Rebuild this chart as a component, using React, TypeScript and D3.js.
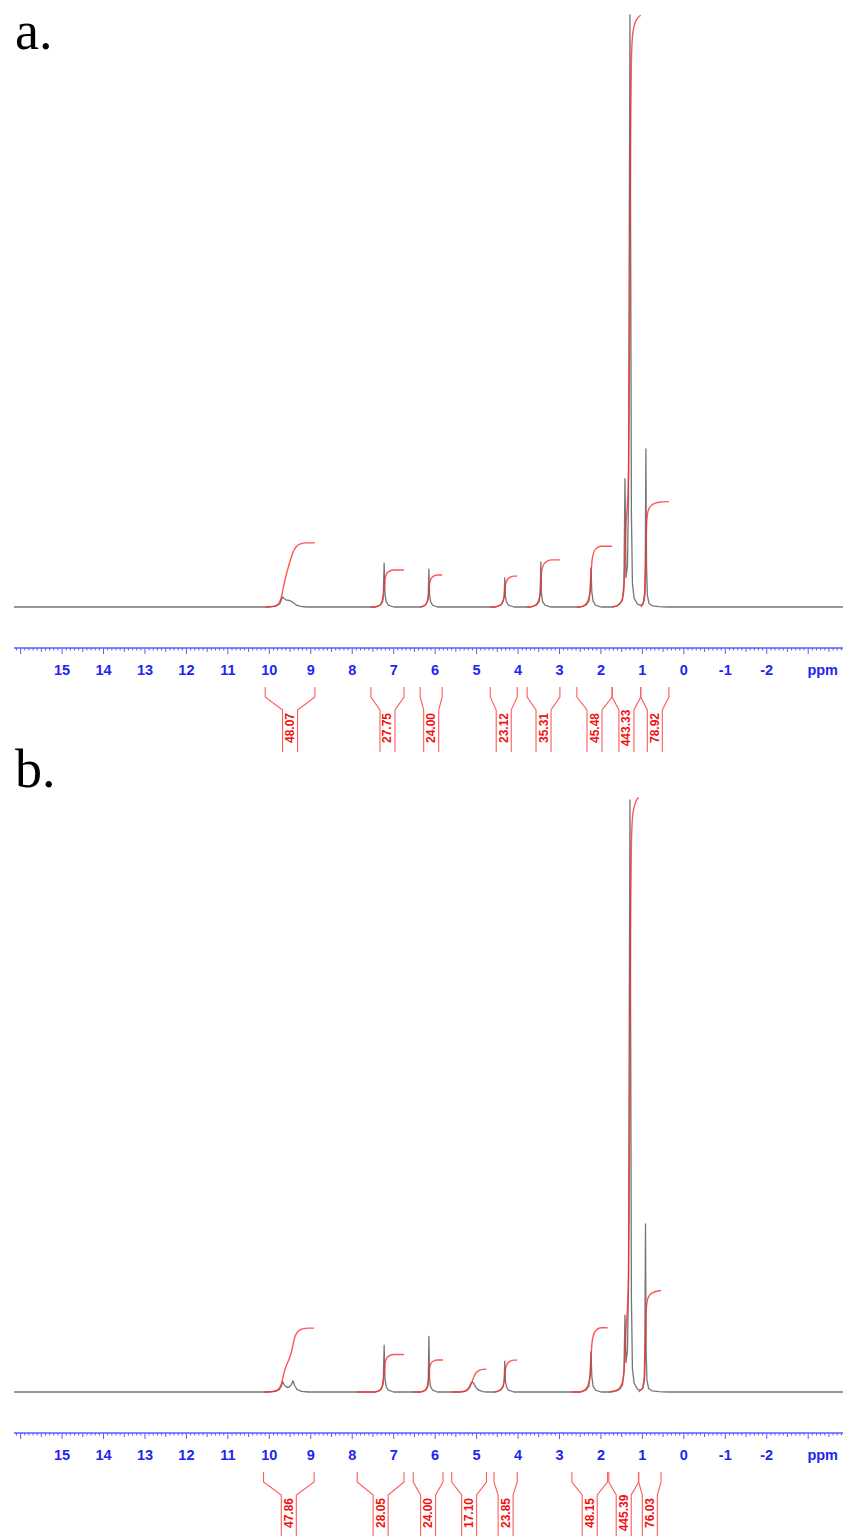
import React from 'react';
import * as d3 from 'd3';

// Chemical-shift window shown on both spectra (ppm, left → right)
const PPM_LEFT = 16.16;
const PPM_RIGHT = -3.84;

// Axis tick labels (integer ppm)
const axisLabels = [15, 14, 13, 12, 11, 10, 9, 8, 7, 6, 5, 4, 3, 2, 1, 0, -1, -2];

// Spectrum a: [ppm, relative intensity %]
const spectrumA: [number, number][] = [
  [16.16, 0], [10.05, 0],
  [9.85, 0.1], [9.75, 0.5], [9.71, 1.2], [9.68, 1.7], [9.65, 1.5], [9.6, 1.2], [9.52, 1.1], [9.45, 0.9], [9.4, 0.6], [9.34, 0.3], [9.25, 0.1], [9.1, 0],
  [7.45, 0], [7.33, 0.3], [7.28, 0.9], [7.25, 2.2], [7.23, 7.4], [7.21, 2.2], [7.18, 0.9], [7.13, 0.3], [7.0, 0],
  [6.35, 0], [6.24, 0.3], [6.19, 0.9], [6.165, 2.0], [6.15, 6.4], [6.135, 2.0], [6.11, 0.9], [6.06, 0.3], [5.95, 0],
  [4.55, 0], [4.42, 0.3], [4.36, 0.9], [4.335, 1.8], [4.32, 4.9], [4.305, 1.8], [4.28, 0.9], [4.23, 0.3], [4.1, 0],
  [3.7, 0], [3.56, 0.3], [3.49, 0.9], [3.465, 2.4], [3.45, 7.6], [3.435, 2.4], [3.41, 0.9], [3.35, 0.3], [3.2, 0],
  [2.5, 0], [2.36, 0.3], [2.29, 1.0], [2.26, 2.6], [2.24, 6.6], [2.22, 2.6], [2.19, 1.0], [2.13, 0.3], [2.0, 0],
  [1.74, 0], [1.62, 0.2], [1.54, 0.5], [1.48, 1.2], [1.445, 4], [1.42, 21.7], [1.395, 5], [1.36, 7], [1.335, 18],
  [1.32, 55], [1.3, 100], [1.28, 55], [1.265, 16], [1.24, 4], [1.2, 1.5], [1.12, 0.5], [1.05, 0.3],
  [0.98, 0.6], [0.945, 2.5], [0.93, 8], [0.915, 26.7], [0.9, 7], [0.88, 2], [0.84, 0.6], [0.76, 0.2], [0.6, 0.05],
  [0.4, 0], [-3.84, 0],
];

// Spectrum b: [ppm, relative intensity %]
const spectrumB: [number, number][] = [
  [16.16, 0], [10.05, 0],
  [9.85, 0.1], [9.76, 0.4], [9.71, 1.0], [9.675, 1.75], [9.64, 1.2], [9.58, 0.8], [9.53, 0.8], [9.47, 1.2], [9.43, 1.9], [9.39, 1.1], [9.33, 0.4], [9.22, 0.1], [9.05, 0],
  [7.45, 0], [7.33, 0.3], [7.28, 0.9], [7.25, 2.3], [7.23, 7.9], [7.21, 2.3], [7.18, 0.9], [7.13, 0.3], [7.0, 0],
  [6.35, 0], [6.24, 0.3], [6.19, 0.9], [6.165, 2.2], [6.15, 9.4], [6.135, 2.2], [6.11, 0.9], [6.06, 0.3], [5.95, 0],
  [5.4, 0], [5.26, 0.2], [5.19, 0.7], [5.14, 1.4], [5.11, 1.7], [5.07, 1.5], [5.02, 0.8], [4.95, 0.3], [4.85, 0.05], [4.75, 0],
  [4.55, 0], [4.42, 0.3], [4.36, 0.9], [4.335, 1.9], [4.32, 5.2], [4.305, 1.9], [4.28, 0.9], [4.23, 0.3], [4.1, 0],
  [2.5, 0], [2.36, 0.3], [2.29, 1.0], [2.26, 2.7], [2.24, 6.8], [2.22, 2.7], [2.19, 1.0], [2.13, 0.3], [2.0, 0],
  [1.8, 0], [1.62, 0.2], [1.54, 0.5], [1.48, 1.2], [1.445, 3.5], [1.42, 13], [1.395, 5], [1.36, 7], [1.335, 18],
  [1.32, 55], [1.3, 100], [1.28, 55], [1.265, 16], [1.24, 4], [1.2, 1.5], [1.12, 0.5], [1.06, 0.3],
  [0.99, 0.6], [0.955, 2.5], [0.94, 8], [0.925, 28.4], [0.91, 7], [0.89, 2], [0.85, 0.6], [0.77, 0.2], [0.6, 0.05],
  [0.4, 0], [-3.84, 0],
];

// Integration regions: from / to in ppm, integral value
const integralsA = [
  { from: 10.1, to: 8.9, value: 48.07 },
  { from: 7.55, to: 6.75, value: 27.75 },
  { from: 6.36, to: 5.83, value: 24.0 },
  { from: 4.67, to: 4.02, value: 23.12 },
  { from: 3.78, to: 2.99, value: 35.31 },
  { from: 2.58, to: 1.73, value: 45.48 },
  { from: 1.73, to: 1.04, value: 443.33 },
  { from: 1.04, to: 0.36, value: 78.92 },
];

const integralsB = [
  { from: 10.14, to: 8.92, value: 47.86 },
  { from: 7.88, to: 6.75, value: 28.05 },
  { from: 6.53, to: 5.81, value: 24.0 },
  { from: 5.6, to: 4.76, value: 17.1 },
  { from: 4.58, to: 4.02, value: 23.85 },
  { from: 2.7, to: 1.84, value: 48.15 },
  { from: 1.81, to: 1.09, value: 445.39 },
  { from: 1.09, to: 0.55, value: 76.03 },
];

const panels = [
  { label: 'a.', spectrum: spectrumA, integrals: integralsA, offset: 0, labelBaseline: 49 },
  { label: 'b.', spectrum: spectrumB, integrals: integralsB, offset: 785, labelBaseline: 787 },
];

const WIDTH = 843;
const HEIGHT = 1536;

const AXIS_BLUE = '#2424f0';
const RED = '#ff2b2b';

const x = d3.scaleLinear().domain([PPM_LEFT, PPM_RIGHT]).range([14, 843]);

function interpAt(spec: [number, number][], p: number): number {
  for (let i = 1; i < spec.length; i++) {
    const [p0, v0] = spec[i - 1];
    const [p1, v1] = spec[i];
    if (p <= p0 && p >= p1) {
      if (p0 === p1) return v0;
      return v0 + ((p0 - p) / (p0 - p1)) * (v1 - v0);
    }
  }
  return 0;
}

// Running (trapezoid) integral over a region, scaled so its end equals the stated value
function integralCurve(spec: [number, number][], from: number, to: number, value: number): [number, number][] {
  const pts: [number, number][] = [[from, interpAt(spec, from)]];
  spec.forEach(d => {
    if (d[0] < from && d[0] > to) pts.push(d);
  });
  pts.push([to, interpAt(spec, to)]);
  let acc = 0;
  const cum: [number, number][] = [[from, 0]];
  for (let i = 1; i < pts.length; i++) {
    acc += (pts[i - 1][0] - pts[i][0]) * (pts[i - 1][1] + pts[i][1]) / 2;
    cum.push([pts[i][0], acc]);
  }
  return cum.map(([p, a]) => [p, acc > 0 ? (a / acc) * value : 0]);
}

const tickValues = d3.range(-38, 162).map(i => i / 10);

function Panel({ label, spectrum, integrals, offset, labelBaseline }: any) {
  const baseY = 607 + offset;
  const ySpec = d3.scaleLinear().domain([0, 100]).range([baseY, 15 + offset]);
  const yInt = d3.scaleLinear().domain([0, 445]).range([baseY, 13 + offset]);
  const axisY = 648 + offset;

  const specLine = d3.line<[number, number]>()
    .x(d => x(d[0]))
    .y(d => ySpec(d[1]));

  const intLine = d3.line<[number, number]>()
    .x(d => x(d[0]))
    .y(d => yInt(d[1]))
    .curve(d3.curveMonotoneX);

  const bTop = axisY + 39;
  const bBottom = axisY + 104;

  return (
    <g>
      <text x={15} y={labelBaseline} fontFamily="'Liberation Serif', 'Times New Roman', serif" fontSize={54} fill="#000">
        {label}
      </text>

      {/* spectrum trace */}
      <path d={specLine(spectrum) || ''} fill="none" stroke="#767676" strokeWidth={1.3} strokeLinejoin="round" />

      {/* integral curves */}
      {integrals.map((r: any, i: number) => (
        <path
          key={i}
          d={intLine(integralCurve(spectrum, r.from, r.to, r.value)) || ''}
          fill="none"
          stroke={RED}
          strokeOpacity={0.8}
          strokeWidth={1.4}
        />
      ))}

      {/* ppm axis */}
      <line x1={x(PPM_LEFT)} x2={x(PPM_RIGHT)} y1={axisY} y2={axisY} stroke="#5a5aff" strokeWidth={1.4} />
      {tickValues.map((t, i) => {
        const isMajor = Math.abs(t - Math.round(t)) < 1e-6;
        const isHalf = !isMajor && Math.abs(t * 2 - Math.round(t * 2)) < 1e-6;
        const len = isMajor ? 6 : isHalf ? 4 : 2.5;
        return (
          <line key={i} x1={x(t)} x2={x(t)} y1={axisY} y2={axisY + len} stroke="#5a5aff" strokeWidth={1} />
        );
      })}
      {axisLabels.map(v => (
        <text
          key={v}
          x={x(v)}
          y={axisY + 27}
          textAnchor="middle"
          fontFamily="'Liberation Sans', Arial, sans-serif"
          fontWeight="bold"
          fontSize={14.5}
          fill={AXIS_BLUE}
        >
          {v}
        </text>
      ))}
      <text
        x={x(-3.35)}
        y={axisY + 27}
        textAnchor="middle"
        fontFamily="'Liberation Sans', Arial, sans-serif"
        fontWeight="bold"
        fontSize={14.5}
        fill={AXIS_BLUE}
      >
        ppm
      </text>

      {/* integration brackets */}
      {integrals.map((r: any, i: number) => {
        const xl = x(r.from);
        const xr = x(r.to);
        const xc = (xl + xr) / 2;
        const g = Math.min(7.5, (xr - xl) / 2);
        const il = xc - g;
        const ir = xc + g;
        const d = `M${xl},${bTop}L${xl},${bTop + 10}L${il},${bTop + 23}L${il},${bBottom}` +
          `M${xr},${bTop}L${xr},${bTop + 10}L${ir},${bTop + 23}L${ir},${bBottom}`;
        const ly = axisY + 80;
        return (
          <g key={i}>
            <path d={d} fill="none" stroke="#ff5a5a" strokeWidth={1.1} />
            <text
              x={xc}
              y={ly}
              transform={`rotate(-90 ${xc} ${ly})`}
              textAnchor="middle"
              dominantBaseline="central"
              fontFamily="'Liberation Sans', Arial, sans-serif"
              fontWeight="bold"
              fontSize={12}
              fill="#f01010"
            >
              {r.value.toFixed(2)}
            </text>
          </g>
        );
      })}
    </g>
  );
}

export default function App() {
  return (
    <svg
      width={WIDTH}
      height={HEIGHT}
      viewBox={`0 0 ${WIDTH} ${HEIGHT}`}
      style={{ position: 'absolute', left: 0, top: 0, background: '#fff' }}
    >
      <rect width={WIDTH} height={HEIGHT} fill="#fff" />
      {panels.map(p => (
        <Panel key={p.label} {...p} />
      ))}
    </svg>
  );
}
